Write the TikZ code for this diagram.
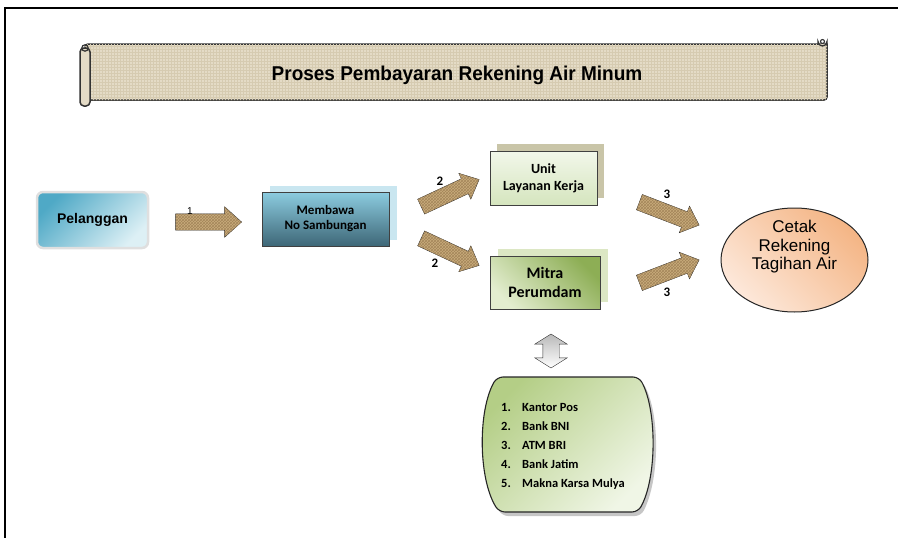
\documentclass[tikz,border=0pt]{standalone}
\usepackage{fontspec}
\setmainfont{Liberation Sans}
\newfontfamily\carlito{Carlito}
\newfontfamily\titlefont[FakeStretch=0.95]{Liberation Sans}
\usetikzlibrary{shapes.arrows,shapes.geometric,patterns,calc}
\definecolor{burlap}{HTML}{C9AC7C}
\definecolor{burlapdark}{HTML}{A4865A}
\definecolor{parch}{HTML}{E4DBC6}
\definecolor{parchdark}{HTML}{D6CBB1}
\definecolor{pelteal}{HTML}{4FA9C6}
\definecolor{pellight}{HTML}{DDF0F5}
\definecolor{memtop}{HTML}{8CCCE0}
\definecolor{membot}{HTML}{3E6777}
\definecolor{memshade}{HTML}{C9E6F0}
\definecolor{unittop}{HTML}{F2F7EA}
\definecolor{unitbot}{HTML}{D5E5BE}
\definecolor{unitshade}{HTML}{C9C5A8}
\definecolor{mitradark}{HTML}{8DAE55}
\definecolor{mitralight}{HTML}{E3EDCF}
\definecolor{mitrashade}{HTML}{DCE7C4}
\definecolor{peach}{HTML}{F4B585}
\definecolor{peachlight}{HTML}{FDE8DA}
\definecolor{listgreen}{HTML}{B4CE86}
\definecolor{listlight}{HTML}{F0F6E6}
\tikzset{
    block arrow/.style = {
        single arrow,
        draw = black!85,
        fill = burlap,
        postaction = {pattern = crosshatch, pattern color = burlapdark},
        single arrow head extend = 6pt,
        single arrow tip angle = 84,
        inner xsep = 0pt,
        inner ysep = 8pt,
        },
    arrow label/.style = {
        font = \carlito\bfseries\fontsize{13}{15}\selectfont,
        inner sep = 0pt,
        },
    box/.style = {
        draw = black!75,
        line width = 1pt,
        font = \carlito\bfseries\fontsize{13}{15}\selectfont,
        align = center,
        },
    shade box/.style = {
        draw = none,
        },
}

\begin{document}
\begin{tikzpicture}[x=1pt, y=-1pt]
    \useasboundingbox (0,0) rectangle (898,538);
    % frame
    \draw[line width=1.6pt] (5,538) -- (5,8) -- (898,8);

    % title scroll
    \draw[line width=1.5pt, draw=black!80, fill=parch,
        postaction={pattern=grid, pattern color=parchdark}]
        (85,44) -- (827,44) -- (827,96) [rounded corners=3pt] -- (827,100) -- (88,100) -- cycle;
    \draw[line width=1.5pt, draw=black!80, fill=parch, rounded corners=4pt]
        (80,48) rectangle (90,106);
    \draw[line width=1.2pt, draw=black!80] (85,48) circle (3.2);
    \draw[line width=1.3pt, draw=black!80, fill=parch]
        (818,44) -- (818,41.5) arc (180:0:4.5) -- (827,44);
    \draw[line width=1.1pt, draw=black!80] (822.5,41.5) circle (2);
    \node[font=\titlefont\bfseries\fontsize{20}{23}\selectfont] (title) at (457,75)
        {Proses Pembayaran Rekening Air Minum};

    % shadows
    \node[shade box, fill=memshade, minimum width=127pt, minimum height=54pt] (memsh) at (333.5,213) {};
    \node[shade box, fill=unitshade, minimum width=107pt, minimum height=54pt] (unitsh) at (550.5,171) {};
    \node[shade box, fill=mitrashade, minimum width=110pt, minimum height=53pt] (mitrash) at (553,275.5) {};

    % boxes
    \node[draw=gray!25, line width=2.5pt, rounded corners=6pt,
        left color=pelteal, right color=pellight, shading angle=45,
        minimum width=111pt, minimum height=56pt,
        font=\bfseries\fontsize{14}{16}\selectfont] (pel) at (92.5,220) {Pelanggan};
    \node[box, top color=memtop, bottom color=membot,
        minimum width=127pt, minimum height=54pt] (mem) at (325.5,219) {Membawa\\No Sambungan};
    \node[box, top color=unittop, bottom color=unitbot,
        minimum width=107pt, minimum height=54pt,
        font=\carlito\bfseries\fontsize{14}{17}\selectfont] (unit) at (543.5,178) {Unit\\Layanan Kerja};
    \node[box, left color=mitralight, right color=mitradark, shading angle=135,
        minimum width=110pt, minimum height=53pt,
        font=\carlito\bfseries\fontsize{16}{19}\selectfont] (mitra) at (545,282.5) {Mitra\\Perumdam};
    \node[ellipse, draw=black!85, line width=1pt,
        left color=peachlight, right color=peach, shading angle=135,
        minimum width=147pt, minimum height=104pt] (cetak) at (794.5,260) {};
    \node[align=center, font=\fontsize{17}{18.5}\selectfont] (cetaktxt) at ($(cetak.center)+(0,-13)$)
        {Cetak\\Rekening\\Tagihan Air};

    % block arrows
    \node[block arrow, single arrow head extend=7pt, minimum height=66pt] (a1) at (204,222) {};
    \node[block arrow, minimum height=64pt, rotate=25] (a2u) at (446,195) {};
    \node[block arrow, minimum height=64pt, rotate=-25] (a2d) at (446,250) {};
    \node[block arrow, minimum height=64pt, rotate=-21] (a3u) at (665,212) {};
    \node[block arrow, minimum height=64pt, rotate=21] (a3d) at (665,273) {};
    \node[font=\fontsize{10}{12}\selectfont, inner sep=0pt] (l1) at (190,211) {1};
    \node[arrow label] (l2u) at (440,181) {2};
    \node[arrow label] (l2d) at (435,263) {2};
    \node[arrow label] (l3u) at (667,194) {3};
    \node[arrow label] (l3d) at (667,292) {3};

    % payment places
    \node[double arrow, rotate=90, draw=black!80, inner xsep=0pt, inner ysep=8pt,
        left color=gray!55, right color=white, shading angle=0,
        minimum height=34pt,
        double arrow head extend=8pt, double arrow tip angle=116] (link) at (551,351) {};
    \fill[gray!45, rounded corners=6pt] (570,381) -- (642,381) .. controls (660,414) and (660,479) .. (641,516)
        -- (502,516) .. controls (481,479) and (481,414) .. (501,381) -- cycle;
    \draw[line width=1.1pt, draw=black!85, left color=listgreen, right color=listlight, shading angle=45,
        rounded corners=6pt] (568,377) -- (639,377) .. controls (657,410) and (657,478) .. (638,512)
        -- (499,512) .. controls (478,478) and (478,410) .. (497,377) -- cycle;
    \node[anchor=west, align=left, inner sep=0pt,
        font=\carlito\bfseries\fontsize{12.5}{18.8}\selectfont] (list) at (501,446.5)
        {\makebox[21pt][l]{1.}Kantor Pos\\
         \makebox[21pt][l]{2.}Bank BNI\\
         \makebox[21pt][l]{3.}ATM BRI\\
         \makebox[21pt][l]{4.}Bank Jatim\\
         \makebox[21pt][l]{5.}Makna Karsa Mulya};
\end{tikzpicture}
\end{document}
